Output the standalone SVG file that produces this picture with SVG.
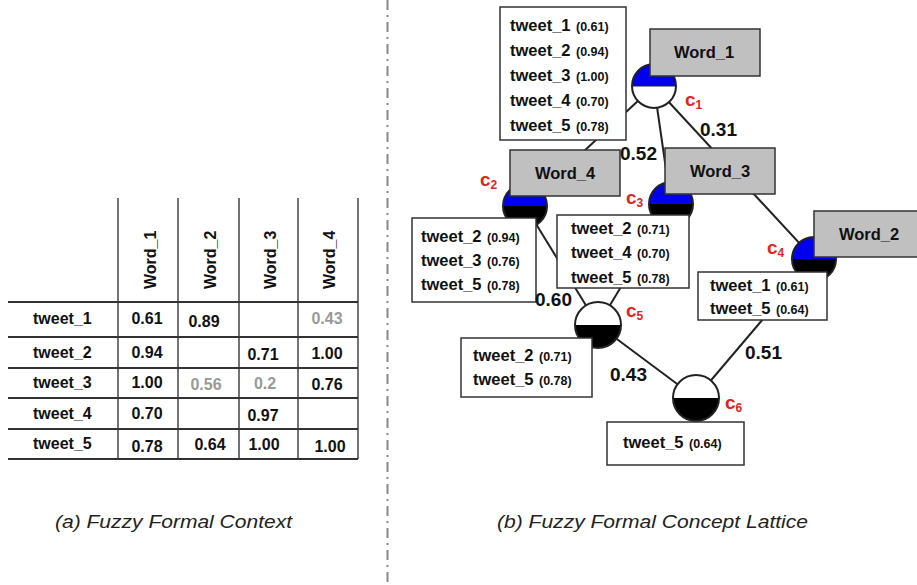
<svg xmlns="http://www.w3.org/2000/svg" width="917" height="585" viewBox="0 0 917 585">
<style>
  text { font-family: "Liberation Sans", Arial, sans-serif; }
  .th { font-size: 16px; font-weight: bold; fill: #111; }
  .tv { font-size: 16px; font-weight: bold; fill: #111; text-anchor: middle; }
  .tg { fill: #999; }
  .rl { font-size: 16px; font-weight: bold; fill: #111; }
  .tline { stroke: #333; stroke-width: 2; }
  .vline { stroke: #444; stroke-width: 1.5; }
  .tw { font-size: 16.5px; font-weight: bold; fill: #111; }
  .sc { font-size: 12.5px; font-weight: bold; fill: #111; }
  .tbox { fill: #fff; stroke: #333; stroke-width: 1.5; }
  .wbox { fill: #c0c0c0; stroke: #333; stroke-width: 1.5; }
  .wt { font-size: 16.5px; font-weight: bold; fill: #111; text-anchor: middle; }
  .edge { stroke: #222; stroke-width: 2; fill: none; }
  .el { font-size: 19px; font-weight: bold; fill: #111; }
  .cl { font-size: 19px; font-weight: bold; fill: #e02424; }
  .sub { font-size: 12px; }
  .ring { fill: none; stroke: #222; stroke-width: 2; }
  .blue { fill: #0000ee; }
  .black { fill: #000; }
  .white { fill: #fff; }
  .cap { font-family: "Liberation Sans", Arial, sans-serif; font-style: italic; font-size: 18px; fill: #222; }
</style>

<!-- divider -->
<line x1="387.5" y1="0" x2="387.5" y2="585" stroke="#888" stroke-width="2" stroke-dasharray="10 5 2 5"/>

<!-- (a) table -->
<g id="table">
  <g>
    <line class="vline" x1="118" y1="198" x2="118" y2="459"/>
    <line class="vline" x1="178" y1="198" x2="178" y2="459"/>
    <line class="vline" x1="239" y1="198" x2="239" y2="459"/>
    <line class="vline" x1="298" y1="198" x2="298" y2="459"/>
    <line class="vline" x1="358" y1="198" x2="358" y2="459"/>
    <line class="tline" x1="8" y1="302" x2="358" y2="302"/>
    <line class="tline" x1="8" y1="337" x2="358" y2="337"/>
    <line class="tline" x1="8" y1="368" x2="358" y2="368"/>
    <line class="tline" x1="8" y1="398" x2="358" y2="398"/>
    <line class="tline" x1="8" y1="429" x2="358" y2="429"/>
    <line class="tline" x1="8" y1="459" x2="358" y2="459"/>
  </g>
  <text class="th" transform="translate(156,289) rotate(-90)">Word_1</text>
  <text class="th" transform="translate(216,289) rotate(-90)">Word_2</text>
  <text class="th" transform="translate(276,289) rotate(-90)">Word_3</text>
  <text class="th" transform="translate(335,289) rotate(-90)">Word_4</text>

  <text class="rl" x="33" y="324">tweet_1</text>
  <text class="rl" x="33" y="358">tweet_2</text>
  <text class="rl" x="33" y="388">tweet_3</text>
  <text class="rl" x="33" y="419">tweet_4</text>
  <text class="rl" x="33" y="449">tweet_5</text>

  <text class="tv" x="147" y="324">0.61</text>
  <text class="tv" x="204" y="327">0.89</text>
  <text class="tv tg" x="327" y="324">0.43</text>

  <text class="tv" x="147" y="358">0.94</text>
  <text class="tv" x="263" y="360">0.71</text>
  <text class="tv" x="327" y="359">1.00</text>

  <text class="tv" x="147" y="388">1.00</text>
  <text class="tv tg" x="206" y="390">0.56</text>
  <text class="tv tg" x="265" y="389">0.2</text>
  <text class="tv" x="327" y="390">0.76</text>

  <text class="tv" x="147" y="419">0.70</text>
  <text class="tv" x="263" y="421">0.97</text>

  <text class="tv" x="147" y="452">0.78</text>
  <text class="tv" x="210" y="450">0.64</text>
  <text class="tv" x="264" y="450">1.00</text>
  <text class="tv" x="330" y="452">1.00</text>
</g>

<!-- (b) lattice connectors -->
<g id="connectors">
  <line class="edge" x1="654" y1="86" x2="525" y2="206"/>
  <line class="edge" x1="654" y1="86" x2="671" y2="204"/>
  <line class="edge" x1="654" y1="86" x2="814" y2="259"/>
  <line class="edge" x1="525" y1="206" x2="598" y2="325"/>
  <line class="edge" x1="671" y1="204" x2="598" y2="325"/>
  <line class="edge" x1="598" y1="325" x2="696" y2="398"/>
  <line class="edge" x1="814" y1="259" x2="696" y2="398"/>
</g>

<!-- c1 -->
<g id="c1">
  <path class="blue" d="M632,86 A22,22 0 0 1 676,86 Z"/>
  <path class="white" d="M632,86 A22,22 0 0 0 676,86 Z"/>
  <circle class="ring" cx="654" cy="86" r="22"/>
  <line x1="632" y1="86" x2="676" y2="86" stroke="#222" stroke-width="1"/>
  <rect class="wbox" x="650" y="29" width="110" height="47"/>
  <text class="wt" x="704" y="58">Word_1</text>
  <rect class="tbox" x="500" y="7" width="126" height="133"/>
  <text x="510" y="31"><tspan class="tw">tweet_1</tspan><tspan class="sc" dx="2"> (0.61)</tspan></text>
  <text x="510" y="56"><tspan class="tw">tweet_2</tspan><tspan class="sc" dx="2"> (0.94)</tspan></text>
  <text x="510" y="81"><tspan class="tw">tweet_3</tspan><tspan class="sc" dx="2"> (1.00)</tspan></text>
  <text x="510" y="106"><tspan class="tw">tweet_4</tspan><tspan class="sc" dx="2"> (0.70)</tspan></text>
  <text x="510" y="131"><tspan class="tw">tweet_5</tspan><tspan class="sc" dx="2"> (0.78)</tspan></text>
  <text class="cl" x="685" y="106">c<tspan class="sub" dy="3">1</tspan></text>
</g>

<!-- c2 -->
<g id="c2">
  <path class="blue" d="M503,206 A22,22 0 0 1 547,206 Z"/>
  <path class="black" d="M503,206 A22,22 0 0 0 547,206 Z"/>
  <circle class="ring" cx="525" cy="206" r="22"/>
  <rect class="wbox" x="510" y="150" width="110" height="46"/>
  <text class="wt" x="565" y="179">Word_4</text>
  <rect class="tbox" x="412" y="218" width="124" height="84"/>
  <text x="421" y="242"><tspan class="tw">tweet_2</tspan><tspan class="sc" dx="2"> (0.94)</tspan></text>
  <text x="421" y="266"><tspan class="tw">tweet_3</tspan><tspan class="sc" dx="2"> (0.76)</tspan></text>
  <text x="421" y="290"><tspan class="tw">tweet_5</tspan><tspan class="sc" dx="2"> (0.78)</tspan></text>
  <text class="cl" x="480" y="186">c<tspan class="sub" dy="3">2</tspan></text>
</g>

<!-- c3 -->
<g id="c3">
  <path class="blue" d="M649,204 A22,22 0 0 1 693,204 Z"/>
  <path class="black" d="M649,204 A22,22 0 0 0 693,204 Z"/>
  <circle class="ring" cx="671" cy="204" r="22"/>
  <rect class="wbox" x="665" y="148" width="110" height="46"/>
  <text class="wt" x="720" y="177">Word_3</text>
  <rect class="tbox" x="557" y="215" width="132" height="73"/>
  <text x="571" y="234"><tspan class="tw">tweet_2</tspan><tspan class="sc" dx="2"> (0.71)</tspan></text>
  <text x="571" y="258"><tspan class="tw">tweet_4</tspan><tspan class="sc" dx="2"> (0.70)</tspan></text>
  <text x="571" y="283"><tspan class="tw">tweet_5</tspan><tspan class="sc" dx="2"> (0.78)</tspan></text>
  <text class="cl" x="626" y="204">c<tspan class="sub" dy="3">3</tspan></text>
</g>

<!-- c4 -->
<g id="c4">
  <path class="blue" d="M792,259 A22,22 0 0 1 836,259 Z"/>
  <path class="black" d="M792,259 A22,22 0 0 0 836,259 Z"/>
  <circle class="ring" cx="814" cy="259" r="22"/>
  <rect class="wbox" x="814" y="211" width="110" height="46"/>
  <text class="wt" x="869" y="240">Word_2</text>
  <rect class="tbox" x="698" y="272" width="129" height="48"/>
  <text x="710" y="291"><tspan class="tw">tweet_1</tspan><tspan class="sc" dx="2"> (0.61)</tspan></text>
  <text x="710" y="314"><tspan class="tw">tweet_5</tspan><tspan class="sc" dx="2"> (0.64)</tspan></text>
  <text class="cl" x="767" y="254">c<tspan class="sub" dy="3">4</tspan></text>
</g>

<!-- c5 -->
<g id="c5">
  <path class="white" d="M575,325 A23,23 0 0 1 621,325 Z"/>
  <path class="black" d="M575,325 A23,23 0 0 0 621,325 Z"/>
  <circle class="ring" cx="598" cy="325" r="23"/>
  <rect class="tbox" x="461" y="338" width="131" height="59"/>
  <text x="473" y="361"><tspan class="tw">tweet_2</tspan><tspan class="sc" dx="2"> (0.71)</tspan></text>
  <text x="473" y="385"><tspan class="tw">tweet_5</tspan><tspan class="sc" dx="2"> (0.78)</tspan></text>
  <text class="cl" x="626" y="317">c<tspan class="sub" dy="3">5</tspan></text>
</g>

<!-- c6 -->
<g id="c6">
  <path class="white" d="M673,398 A23,23 0 0 1 719,398 Z"/>
  <path class="black" d="M673,398 A23,23 0 0 0 719,398 Z"/>
  <circle class="ring" cx="696" cy="398" r="23"/>
  <rect class="tbox" x="607" y="422" width="137" height="43"/>
  <text x="623" y="448"><tspan class="tw">tweet_5</tspan><tspan class="sc" dx="2"> (0.64)</tspan></text>
  <text class="cl" x="725" y="409">c<tspan class="sub" dy="3">6</tspan></text>
</g>

<!-- edge labels -->
<g id="edge-labels">
  <text class="el" x="700" y="136">0.31</text>
  <text class="el" x="620" y="160">0.52</text>
  <text class="el" x="535" y="306">0.60</text>
  <text class="el" x="610" y="381">0.43</text>
  <text class="el" x="745" y="359">0.51</text>
</g>

<!-- captions -->
<text class="cap" x="55" y="528" textLength="237" lengthAdjust="spacingAndGlyphs">(a) Fuzzy Formal Context</text>
<text class="cap" x="497" y="528" textLength="311" lengthAdjust="spacingAndGlyphs">(b) Fuzzy Formal Concept Lattice</text>
</svg>
